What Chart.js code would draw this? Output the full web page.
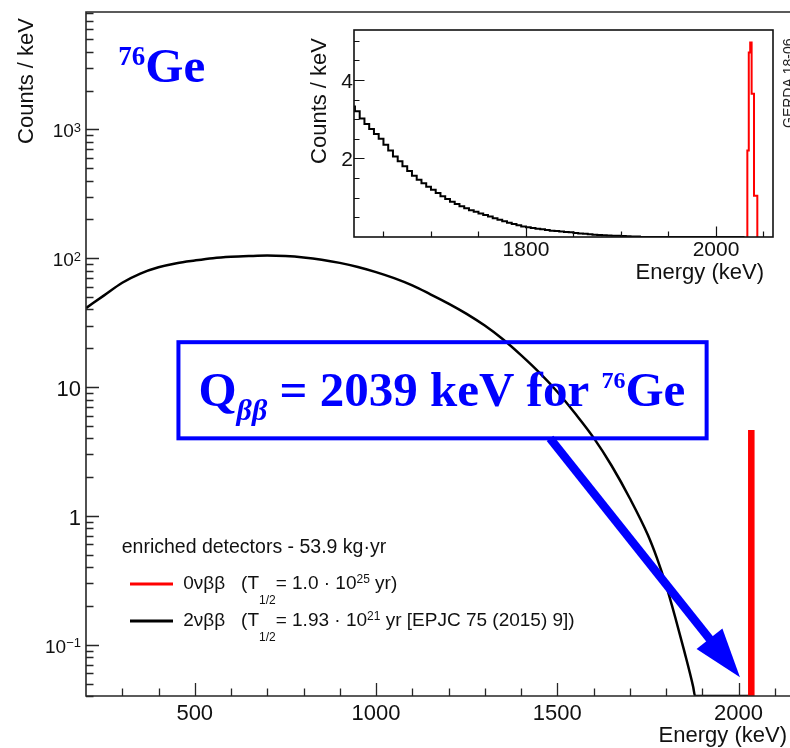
<!DOCTYPE html>
<html>
<head>
<meta charset="utf-8">
<title>76Ge spectrum</title>
<script src="https://cdn.jsdelivr.net/npm/chart.js@4/dist/chart.umd.min.js"></script>
<style>
    html, body { margin: 0; padding: 0; background: #fff; overflow: hidden; }
    #wrap { position: relative; width: 790px; height: 748px; }
    #wrap canvas { position: absolute; left: 0; top: 0; }
</style>
</head>
<body>
<div id="wrap">
    <canvas id="mainChart" width="790" height="748"></canvas>
    <canvas id="insetChart" width="790" height="748"></canvas>
</div>
<script>
// ═══ DATA ════════════════════════════════════════════════════════════════
// Main panel: 2νββ spectrum, counts / keV (log scale)
const mainEnergy = [200, 250, 300, 350, 400, 450, 500, 550, 600, 650, 700, 750, 800, 850, 900, 950,
                    1000, 1050, 1100, 1150, 1200, 1250, 1300, 1350, 1400, 1450, 1500, 1550, 1600, 1650,
                    1700, 1750, 1775, 1800, 1825, 1850, 1875, 1880, 2028];
const main2nu    = [41, 51.5, 64.5, 76, 85, 91.5, 96, 100, 102.5, 104, 105, 104, 101.5, 97.5, 92, 85.5,
                    78, 70, 61.5, 52.5, 44.5, 37, 30, 23.5, 17.7, 13, 9.2, 6.2, 4.05, 2.45,
                    1.37, 0.71, 0.47, 0.29, 0.165, 0.09, 0.047, 0, 0];
// Main panel: 0νββ peak (bin edges / contents)
const mainPeakEdges  = [2029, 2033, 2041.5];
const mainPeakCounts = [0.19, 4.55];

// Inset: 2νββ in 5 keV bins starting at 1620 keV (linear scale)
const insetBinStart = 1620;
const insetBinWidth = 5;
const inset2nu = [3.35, 3.2, 3.02, 2.88, 2.75, 2.62, 2.5, 2.35, 2.2, 2.05,
                  1.93, 1.8, 1.68, 1.56, 1.46, 1.37, 1.28, 1.2, 1.12, 1.04,
                  0.97, 0.9, 0.84, 0.78, 0.73, 0.68, 0.64, 0.6, 0.56, 0.52,
                  0.48, 0.44, 0.4, 0.36, 0.33, 0.3, 0.27, 0.25, 0.23, 0.21,
                  0.2, 0.18, 0.16, 0.15, 0.14, 0.13, 0.12, 0.1, 0.09, 0.08,
                  0.07, 0.06, 0.05, 0.045, 0.04, 0.035, 0.03, 0.025, 0.02, 0.015];
const insetTailEnd = 2030;
// Inset: 0νββ peak
const peakEdges  = [2033, 2034.5, 2036, 2037.5, 2040, 2041.5, 2043.5];
const peakCounts = [0.45, 2.2, 4.7, 4.95, 3.65, 1.05];

// Axis ranges and tick labels
const mainXRange = [200, 2142];
const mainYRange = [0.04, 8150];
const mainXTicks = [500, 1000, 1500, 2000];
const mainYTicks = [0.1, 1, 10, 100, 1000];
const mainYLabels = [['10', '\u22121'], ['1', ''], ['10', ''], ['10', '2'], ['10', '3']];
const insetXRange = [1619, 2060];
const insetYRange = [0, 5.27];
const insetXTicks = [1800, 2000];
const insetYTicks = [2, 4];

// Annotation anchors (data coordinates of the main panel)
const qBoxEnergy = [455, 1912];
const qBoxCounts = [4.0, 22.3];
const arrowTail  = [1480, 4.0];
const arrowTip   = [2004, 0.056];

(function () {
    'use strict';

    const SANS  = '"Liberation Sans", Arial, Helvetica, sans-serif';
    const SERIF = '"Liberation Serif", "Times New Roman", serif';
    const BLUE  = '#0000ff';
    const INK   = '#111';

    const $ = (id) => document.getElementById(id);

    // histogram (edges + contents) -> stepped outline points.
    // floor: empty bins on a log axis are drawn on the frame, ROOT style
    function histPoints(edges, counts, floor = 0) {
        const f = (v) => Math.max(v, floor);
        const pts = [{ x: edges[0], y: f(0) }];
        counts.forEach((c, i) => pts.push({ x: edges[i], y: f(c) }));
        const last = edges[counts.length];
        pts.push({ x: last, y: f(counts[counts.length - 1]) });
        pts.push({ x: last, y: f(0) });
        return pts;
    }

    function text(ctx, s, x, y, font, color, align) {
        ctx.font = font;
        ctx.fillStyle = color;
        ctx.textAlign = align || 'left';
        ctx.textBaseline = 'alphabetic';
        ctx.fillText(s, x, y);
    }

    function runWidth(ctx, parts) {
        let w = 0;
        for (const p of parts) { ctx.font = p.font; w += ctx.measureText(p.t).width; }
        return w;
    }

    // draw a run of text pieces (sub/superscripts via dy)
    function drawRun(ctx, x, y, parts, color) {
        ctx.fillStyle = color;
        ctx.textAlign = 'left';
        ctx.textBaseline = 'alphabetic';
        for (const p of parts) {
            ctx.font = p.font;
            ctx.fillText(p.t, x, y + (p.dy || 0));
            x += ctx.measureText(p.t).width;
        }
        return x;
    }

    function vText(ctx, s, x, y, font, color, align) {
        ctx.save();
        ctx.translate(x, y);
        ctx.rotate(-Math.PI / 2);
        text(ctx, s, 0, 0, font, color, align);
        ctx.restore();
    }

    // ═══ MAIN PANEL DECORATION ══════════════════════════════════════════════
    const mainDecor = {
        id: 'mainDecor',
        afterDatasetsDraw(chart) {
            const { ctx, chartArea: a } = chart;
            const xs = chart.scales.x, ys = chart.scales.y;
            ctx.save();

            ctx.strokeStyle = '#262626';
            ctx.lineWidth = 1.6;
            ctx.beginPath();
            ctx.moveTo(a.right + 2, a.top); ctx.lineTo(a.left, a.top);
            ctx.lineTo(a.left, a.bottom); ctx.lineTo(a.right + 2, a.bottom);
            ctx.stroke();

            ctx.lineWidth = 1.3;
            ctx.beginPath();
            for (let e = 300; e <= xs.max; e += 100) {
                const px = Math.round(xs.getPixelForValue(e)) + 0.5;
                const len = e % 500 === 0 ? 13 : 7.5;
                ctx.moveTo(px, a.bottom); ctx.lineTo(px, a.bottom - len);
            }
            for (let d = -2; d <= 4; d++) {
                for (let k = 1; k <= 9; k++) {
                    const v = k * Math.pow(10, d);
                    if (v < ys.min || v > ys.max) continue;
                    const py = Math.round(ys.getPixelForValue(v)) + 0.5;
                    ctx.moveTo(a.left, py); ctx.lineTo(a.left + (k === 1 ? 13 : 7.5), py);
                }
            }
            ctx.stroke();

            mainXTicks.forEach(v => {
                text(ctx, String(v), xs.getPixelForValue(v), a.bottom + 23.5, `22px ${SANS}`, INK, 'center');
            });
            mainYTicks.forEach((v, i) => {
                const py = ys.getPixelForValue(v);
                const [base, exp] = mainYLabels[i];
                if (!exp) {
                    text(ctx, base, 81, py + 8.8, `22px ${SANS}`, INK, 'right');
                } else {
                    const parts = [{ t: base, font: `19px ${SANS}` }, { t: exp, font: `13px ${SANS}`, dy: -5.5 }];
                    drawRun(ctx, 81 - runWidth(ctx, parts), py + 8, parts, INK);
                }
            });

            text(ctx, 'Energy (keV)', 787, 742, `22px ${SANS}`, INK, 'right');
            vText(ctx, 'Counts / keV', 32.5, 18, `22px ${SANS}`, INK, 'right');
            vText(ctx, 'GERDA 18-06', 792.5, 128, `14px ${SANS}`, '#222', 'left');

            // legend
            const ds = chart.data.datasets;
            text(ctx, 'enriched detectors - 53.9 kg\u00b7yr', 121.7, 553, `19.5px ${SANS}`, INK);
            const big = `19px ${SANS}`, small = `12px ${SANS}`;
            const rows = [
                { color: ds[0].borderColor, y: 584, parts: [
                    { t: '0\u03bd\u03b2\u03b2   (T', font: big }, { t: '1/2', font: small, dy: 14.5 },
                    { t: '= 1.0 \u00b7 10', font: big }, { t: '25', font: small, dy: -6.5 },
                    { t: ' yr)', font: big }] },
                { color: ds[1].borderColor, y: 621, parts: [
                    { t: '2\u03bd\u03b2\u03b2   (T', font: big }, { t: '1/2', font: small, dy: 14.5 },
                    { t: '= 1.93 \u00b7 10', font: big }, { t: '21', font: small, dy: -6.5 },
                    { t: ' yr [EPJC 75 (2015) 9])', font: big }] }
            ];
            rows.forEach(r => {
                ctx.strokeStyle = r.color;
                ctx.lineWidth = 3;
                ctx.beginPath();
                ctx.moveTo(130, r.y); ctx.lineTo(173, r.y);
                ctx.stroke();
                drawRun(ctx, 183.3, r.y + 5, r.parts, INK);
            });

            ctx.restore();
        },
        afterDraw(chart) {
            const { ctx } = chart;
            const xs = chart.scales.x, ys = chart.scales.y;
            ctx.save();

            // isotope label
            drawRun(ctx, 118.3, 81.7, [
                { t: '76', font: `bold 27px ${SERIF}`, dy: -16.7 },
                { t: 'Ge', font: `bold 49px ${SERIF}` }], BLUE);

            // Q-value box
            const bl = xs.getPixelForValue(qBoxEnergy[0]), br = xs.getPixelForValue(qBoxEnergy[1]);
            const bb = ys.getPixelForValue(qBoxCounts[0]), bt = ys.getPixelForValue(qBoxCounts[1]);
            ctx.strokeStyle = BLUE;
            ctx.lineWidth = 4;
            ctx.strokeRect(bl, bt, br - bl, bb - bt);
            drawRun(ctx, bl + 20, bb - 32, [
                { t: 'Q', font: `bold 49px ${SERIF}` },
                { t: '\u03b2\u03b2', font: `italic bold 30px ${SERIF}`, dy: 14 },
                { t: ' = 2039 keV for ', font: `bold 49px ${SERIF}` },
                { t: '76', font: `bold 24px ${SERIF}`, dy: -18 },
                { t: 'Ge', font: `bold 49px ${SERIF}` }], BLUE);

            // arrow to Q-value
            const x0 = xs.getPixelForValue(arrowTail[0]), y0 = ys.getPixelForValue(arrowTail[1]);
            const x1 = xs.getPixelForValue(arrowTip[0]),  y1 = ys.getPixelForValue(arrowTip[1]);
            const L = Math.hypot(x1 - x0, y1 - y0);
            const ux = (x1 - x0) / L, uy = (y1 - y0) / L;
            const headLen = 49, headHalf = 16.5;
            const hx = x1 - ux * headLen, hy = y1 - uy * headLen;
            ctx.lineWidth = 8.5;
            ctx.lineCap = 'butt';
            ctx.beginPath();
            ctx.moveTo(x0, y0); ctx.lineTo(hx + ux * 4, hy + uy * 4);
            ctx.stroke();
            ctx.fillStyle = BLUE;
            ctx.beginPath();
            ctx.moveTo(x1, y1);
            ctx.lineTo(hx - uy * headHalf, hy + ux * headHalf);
            ctx.lineTo(hx + uy * headHalf, hy - ux * headHalf);
            ctx.closePath();
            ctx.fill();

            ctx.restore();
        }
    };

    // ═══ INSET DECORATION ═══════════════════════════════════════════════════
    const insetDecor = {
        id: 'insetDecor',
        afterDatasetsDraw(chart) {
            const { ctx, chartArea: a } = chart;
            const xs = chart.scales.x, ys = chart.scales.y;
            ctx.save();

            ctx.strokeStyle = '#111';
            ctx.lineWidth = 1.6;
            ctx.strokeRect(a.left, a.top, a.right - a.left, a.bottom - a.top);

            ctx.lineWidth = 1.2;
            ctx.beginPath();
            for (let e = 1650; e < xs.max; e += 50) {
                const px = Math.round(xs.getPixelForValue(e)) + 0.5;
                const len = e % 200 === 0 ? 10.5 : 5.5;
                ctx.moveTo(px, a.bottom); ctx.lineTo(px, a.bottom - len);
            }
            for (let v = 0.5; v <= ys.max; v += 0.5) {
                const py = Math.round(ys.getPixelForValue(v)) + 0.5;
                const len = v % 2 === 0 ? 10.5 : 5.5;
                ctx.moveTo(a.left, py); ctx.lineTo(a.left + len, py);
            }
            ctx.stroke();

            insetXTicks.forEach(v => {
                text(ctx, String(v), xs.getPixelForValue(v), a.bottom + 19, `21px ${SANS}`, INK, 'center');
            });
            insetYTicks.forEach(v => {
                text(ctx, String(v), 353, ys.getPixelForValue(v) + 8, `21px ${SANS}`, INK, 'right');
            });
            text(ctx, 'Energy (keV)', 764, 278.5, `22px ${SANS}`, INK, 'right');
            vText(ctx, 'Counts / keV', 326, 38, `22px ${SANS}`, INK, 'right');

            ctx.restore();
        }
    };

    const baseOptions = (pad, xr, yType, yr) => ({
        responsive: false,
        animation: false,
        events: [],
        layout: { padding: pad },
        scales: {
            x: { type: 'linear', min: xr[0], max: xr[1], bounds: 'data', display: false },
            y: { type: yType, min: yr[0], max: yr[1], bounds: 'data', display: false }
        },
        plugins: { legend: { display: false }, tooltip: { enabled: false } },
        elements: { point: { radius: 0 }, line: { tension: 0, borderJoinStyle: 'miter' } }
    });

    function render() {
        const floor = mainYRange[0];
        const main2nuPoints = mainEnergy.map((e, i) => ({ x: e, y: Math.max(main2nu[i], floor) }));
        new Chart($('mainChart'), {
            type: 'line',
            data: {
                datasets: [
                    { label: '0\u03bd\u03b2\u03b2', data: histPoints(mainPeakEdges, mainPeakCounts, floor),
                      borderColor: '#ff0000', backgroundColor: '#ff0000', borderWidth: 2,
                      stepped: 'after', fill: 'origin' },
                    { label: '2\u03bd\u03b2\u03b2', data: main2nuPoints,
                      borderColor: '#000000', borderWidth: 2.5, fill: false,
                      cubicInterpolationMode: 'monotone' }
                ]
            },
            options: baseOptions({ left: 86, top: 12, right: 0, bottom: 52 }, mainXRange, 'logarithmic', mainYRange),
            plugins: [mainDecor]
        });

        const insetEdges = inset2nu.map((_, i) => insetBinStart + i * insetBinWidth);
        insetEdges.push(insetBinStart + inset2nu.length * insetBinWidth);
        const inset2nuPoints = histPoints(insetEdges, inset2nu).slice(1);
        inset2nuPoints.push({ x: insetTailEnd, y: 0 });
        new Chart($('insetChart'), {
            type: 'line',
            data: {
                datasets: [
                    { label: '0\u03bd\u03b2\u03b2', data: histPoints(peakEdges, peakCounts),
                      borderColor: '#ff0000', borderWidth: 2, stepped: 'after', fill: false },
                    { label: '2\u03bd\u03b2\u03b2', data: inset2nuPoints,
                      borderColor: '#000000', borderWidth: 2, stepped: 'after', fill: false }
                ]
            },
            options: baseOptions({ left: 354, top: 30, right: 17, bottom: 511 }, insetXRange, 'linear', insetYRange),
            plugins: [insetDecor]
        });
    }

    if (document.readyState === 'loading') {
        document.addEventListener('DOMContentLoaded', render);
    } else {
        render();
    }
})();
</script>
</body>
</html>
